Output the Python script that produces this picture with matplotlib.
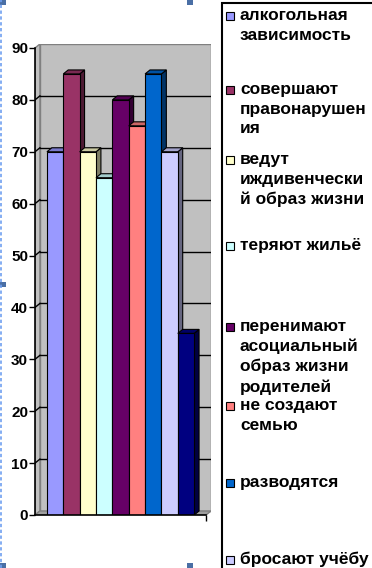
import matplotlib
matplotlib.use("Agg")
import matplotlib.pyplot as plt
from matplotlib.patches import Polygon, Rectangle
from matplotlib.lines import Line2D

plt.rcParams['font.family'] = ['Liberation Sans', 'DejaVu Sans']

labels = [
    "алкогольная\nзависимость",
    "совершают\nправонарушен\nия",
    "ведут\nиждивенчески\nй образ жизни",
    "теряют жильё",
    "перенимают\nасоциальный\nобраз жизни\nродителей",
    "не создают\nсемью",
    "разводятся",
    "бросают учёбу",
    "",
]
values = [70, 85, 70, 65, 80, 75, 85, 70, 35]
colors = ["#9999FF", "#993366", "#FFFFCC", "#CCFFFF", "#660066",
          "#FF8080", "#0066CC", "#CCCCFF", "#000080"]
yticks = [0, 10, 20, 30, 40, 50, 60, 70, 80, 90]

W, H = 372, 568
fig = plt.figure(figsize=(W / 100, H / 100), dpi=100)

def fx(px):
    return px / W

def fy(py):
    return 1 - py / H

# geometry (pixels)
ax_l, ax_r, ax_b, ax_t = 35, 211, 515, 44
ax = fig.add_axes([fx(ax_l), fy(ax_b), fx(ax_r) - fx(ax_l), fy(ax_t) - fy(ax_b)])

n = len(values)
xmin = -0.5 - 0.73
dx, dy = 0.3, 0.77
xfront_r = n - 0.5 + 0.73
ax.set_xlim(xmin, xfront_r + dx)
ax.set_ylim(0, 90 + dy)
ax.patch.set_visible(False)

wall_c = "#C0C0C0"
edge_c = "#808080"
# back wall
ax.add_patch(Polygon([(xmin + dx, dy), (xfront_r + dx, dy), (xfront_r + dx, 90 + dy),
                      (xmin + dx, 90 + dy)], closed=True, fc=wall_c, ec=edge_c, lw=1, zorder=0))
# side wall
ax.add_patch(Polygon([(xmin, 0), (xmin + dx, dy), (xmin + dx, 90 + dy), (xmin, 90)],
                     closed=True, fc=wall_c, ec=edge_c, lw=1, zorder=0))
# floor
ax.add_patch(Polygon([(xmin, 0), (xfront_r, 0), (xfront_r + dx, dy), (xmin + dx, dy)],
                     closed=True, fc="#A0A0A0", ec=edge_c, lw=1, zorder=0))
# gridlines
for v in yticks[1:-1]:
    ax.plot([xmin + dx, xfront_r + dx], [v + dy, v + dy], color="black", lw=1, zorder=1)
    ax.plot([xmin, xmin + dx], [v, v + dy], color="black", lw=1, zorder=1)

def shade(c, f):
    import matplotlib.colors as mc
    r, g, b = mc.to_rgb(c)
    return (r * f, g * f, b * f)

xs = list(range(n))
for i, (v, c) in enumerate(zip(values, colors)):
    l, r = i - 0.5, i + 0.5
    ax.add_patch(Polygon([(r, 0), (r + dx, dy), (r + dx, v + dy), (r, v)], closed=True,
                         fc=shade(c, 0.5), ec="black", lw=0.8, zorder=2 + i * 0.1))
    ax.add_patch(Polygon([(l, v), (r, v), (r + dx, v + dy), (l + dx, v + dy)], closed=True,
                         fc=shade(c, 0.8), ec="black", lw=0.8, zorder=2 + i * 0.1))
    ax.bar([xs[i]], [v], width=1.0, color=c, edgecolor="black", lw=0.8,
           zorder=2.05 + i * 0.1)

for s in ["top", "right"]:
    ax.spines[s].set_visible(False)
ax.spines["left"].set_bounds(0, 90)
ax.spines["bottom"].set_bounds(xmin, xfront_r)
ax.spines["left"].set_linewidth(1.2)
ax.spines["bottom"].set_linewidth(1.2)
ax.spines["left"].set_zorder(5)
ax.spines["bottom"].set_zorder(5)
ax.set_yticks(yticks)
ax.set_yticklabels([str(t) for t in yticks], fontsize=11, fontweight="bold")
ax.tick_params(axis="y", length=4, width=1, pad=1)
ax.set_xticks([xfront_r])
ax.set_xticklabels([""])
ax.tick_params(axis="x", length=4, width=1)

# legend box
fig.patches.append(Rectangle((fx(222), fy(600)), fx(400) - fx(222), fy(3) - fy(600),
                             transform=fig.transFigure, fc="white", ec="black", lw=1.5))
entry_y = [16, 90, 160, 246, 327, 406, 483, 560]
for lab, c, ey in zip(labels, colors, entry_y):
    fig.patches.append(Rectangle((fx(226), fy(ey + 4)), fx(8), 8 / H, transform=fig.transFigure,
                                 fc=c, ec="black", lw=0.8))
    fig.text(fx(240), fy(ey - 8), lab, ha="left", va="top", fontsize=12.5,
             fontweight="bold", linespacing=1.38)

# selection handles
hc = "#4A6FA5"
for (hx, hy) in [(0, 0), (187, 0), (0, 282), (0, 563), (187, 563)]:
    fig.patches.append(Rectangle((fx(hx), fy(hy + 5)), fx(6), 5 / H, transform=fig.transFigure,
                                 fc=hc, ec="none"))
fig.lines.append(Line2D([fx(1), fx(1)], [0, 1], transform=fig.transFigure, color="#6FA0F0",
                        lw=1.2, ls=(0, (2, 1.5))))

fig.savefig("out.png", dpi=100)
